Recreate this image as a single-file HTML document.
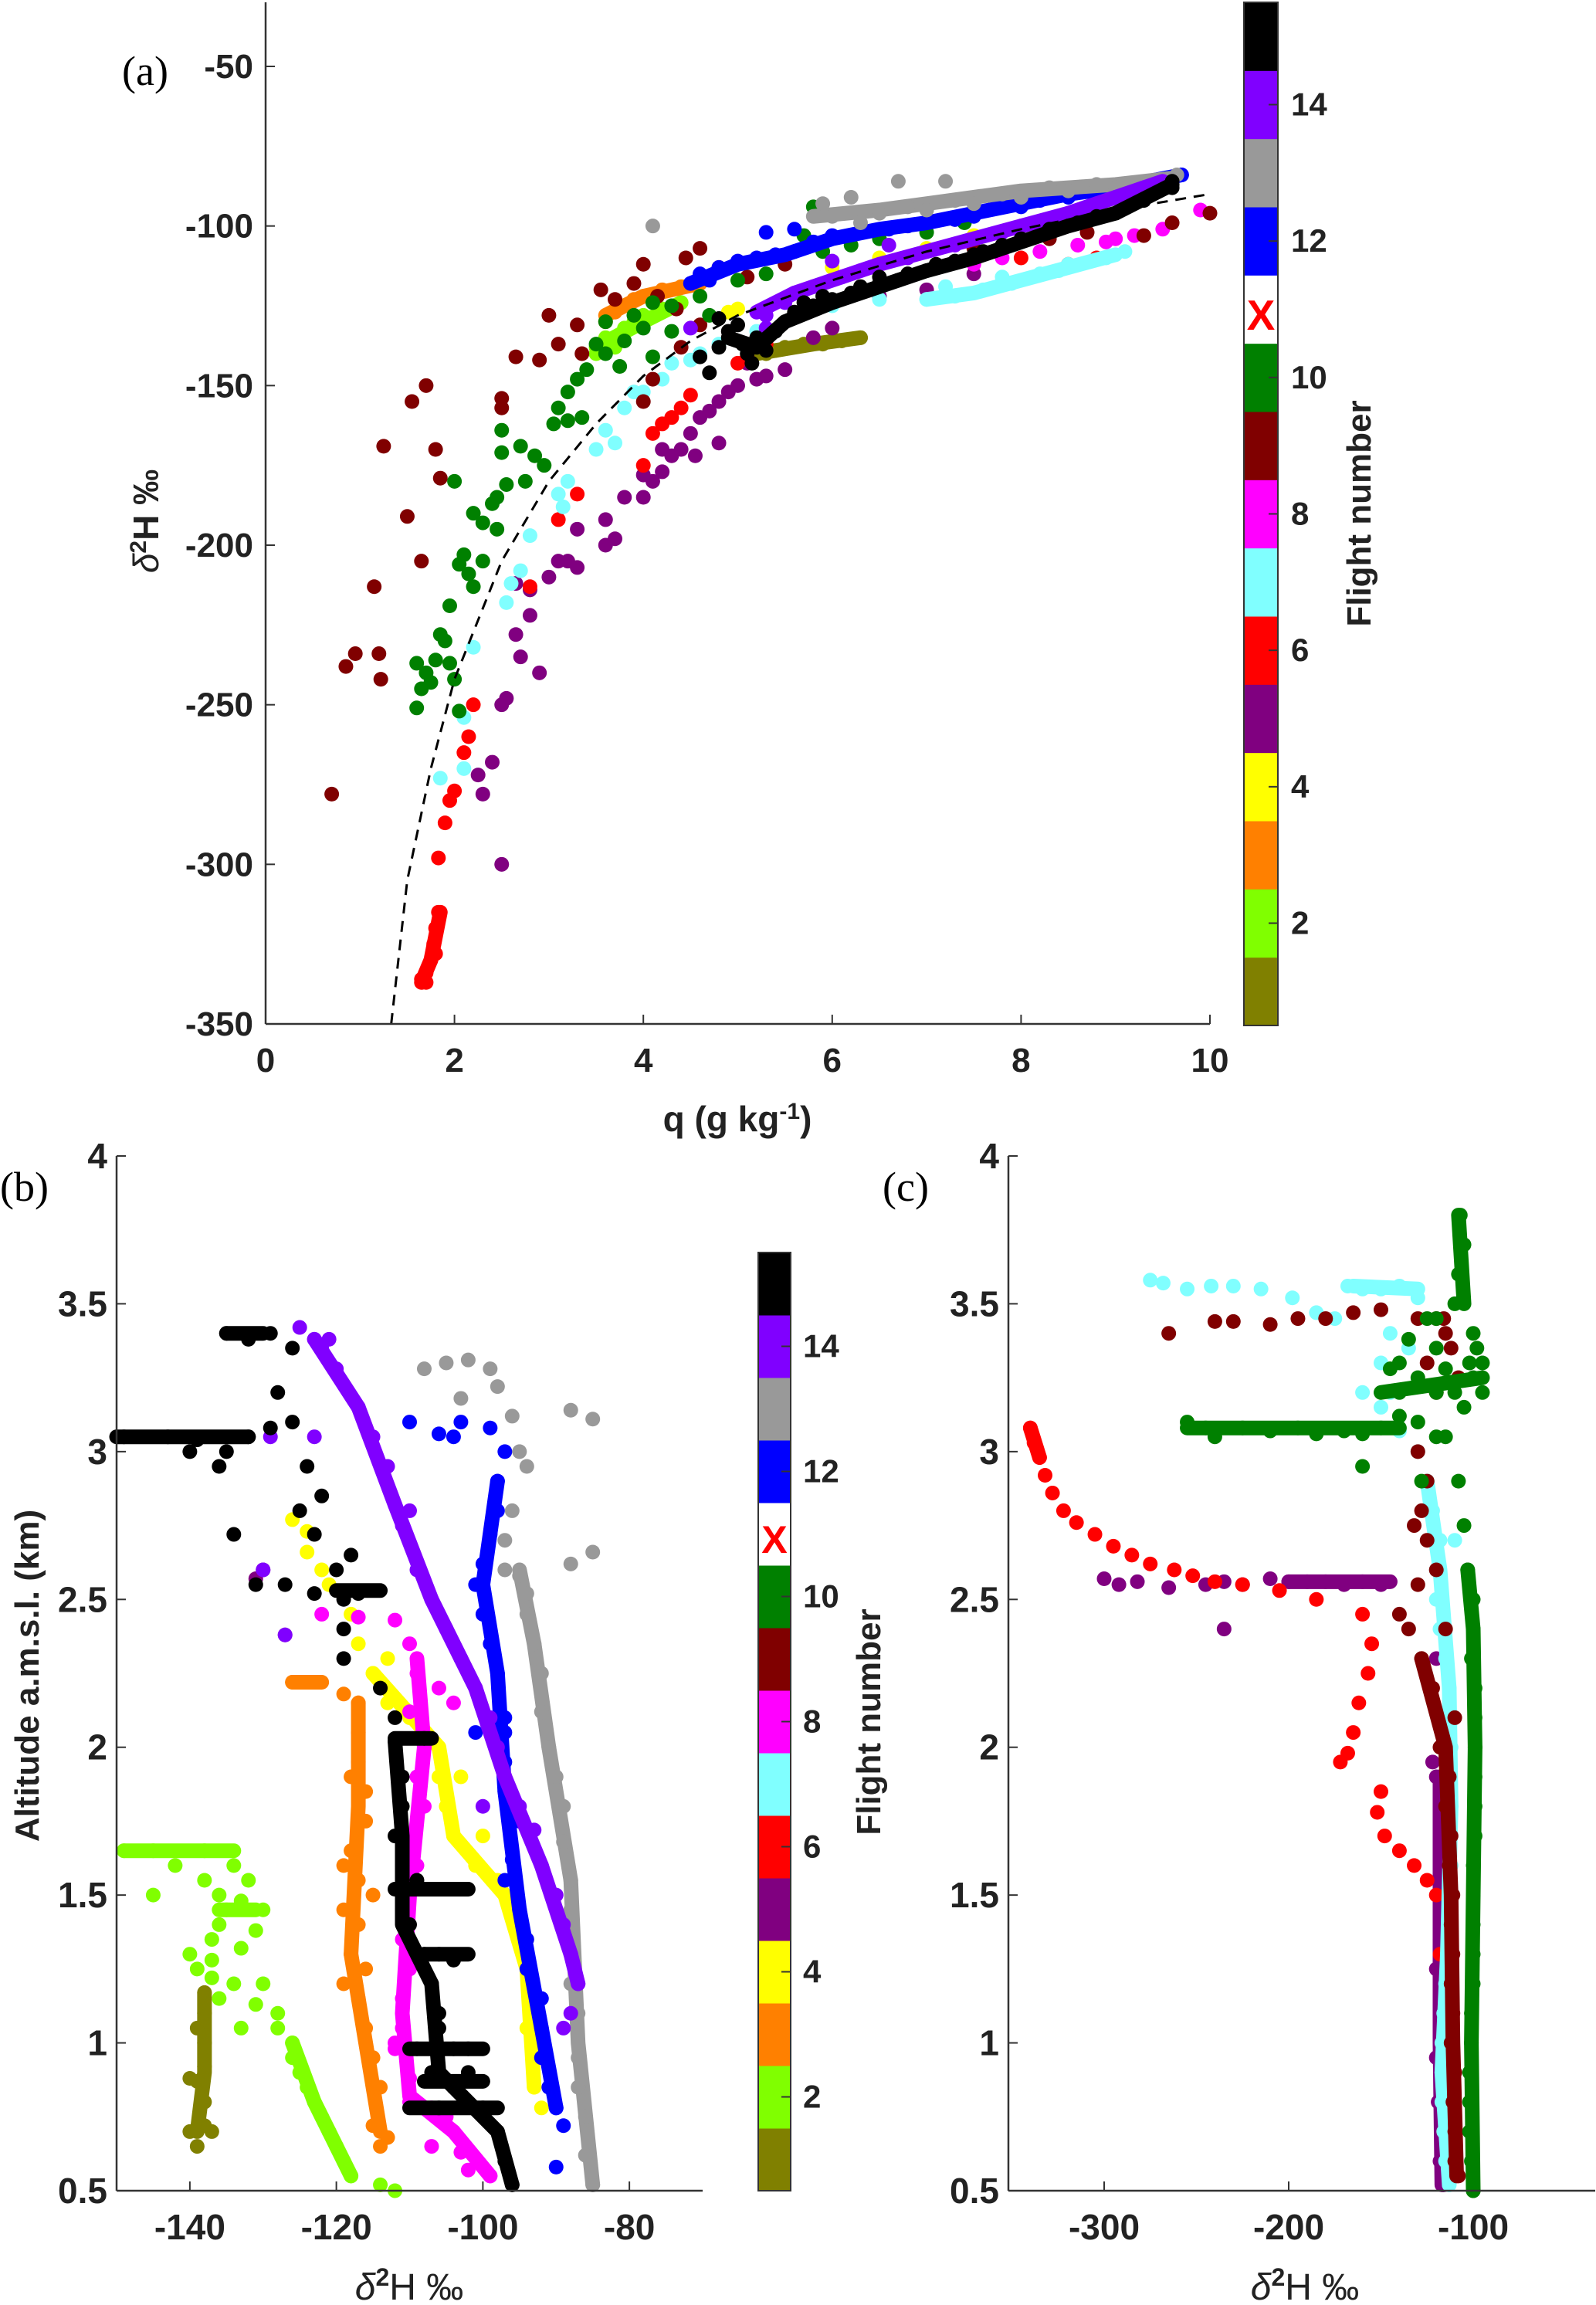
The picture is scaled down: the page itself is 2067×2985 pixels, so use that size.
<!DOCTYPE html>
<html><head><meta charset="utf-8"><style>
html,body{margin:0;padding:0;background:#fff}
svg{display:block}
text{font-family:"Liberation Sans Narrow","Liberation Sans",sans-serif;fill:#222}
</style></head><body>
<svg id="fig" width="2067" height="2985" xmlns="http://www.w3.org/2000/svg"></svg>
<script>
// ---- Colours per flight (1..15), flight 11 absent ----
const flightColors=["#808000","#80ff00","#ff8000","#ffff00","#800080","#ff0000","#80ffff","#ff00ff","#800000","#008000","#ffffff","#0000ff","#999999","#8000ff","#000000"];
const cbLabels=["2","4","6","8","10","12","14"];
const cbLabelFlights=[2,4,6,8,10,12,14];
// ---- Panel (a): q (g/kg) vs d2H ----
const aXTicks=[0,2,4,6,8,10];
const aYTicks=[-50,-100,-150,-200,-250,-300,-350];
const curveQ=[1.33,1.5,1.75,2,2.5,3,3.5,4,4.5,5,6,7,8,9,10];
const curveD=[-350,-305,-270,-242,-205,-180,-162,-147,-136,-128,-117,-108,-101,-95,-90];
const aF1=[[5.3,-140],[5.5,-138],[5.7,-137],[5.9,-137],[6.1,-136],[6.3,-135],[5.4,-139],[6.0,-136]];
const aF2=[[3.5,-140],[3.6,-135],[3.7,-138],[3.8,-132],[3.9,-130],[4.0,-128],[4.2,-126],[4.4,-124]];
const aF3=[[3.6,-130],[3.7,-127],[3.8,-125],[3.9,-123],[4.0,-122],[4.2,-120],[4.4,-119],[4.6,-118]];
const aF4=[[4.9,-127],[5.0,-126],[6.5,-110],[7.0,-107],[7.5,-103],[6.0,-113]];
const aF5=[[2.5,-300],[2.4,-268],[2.3,-278],[2.25,-272],[2.5,-250],[2.55,-248],[2.7,-235],[2.65,-228],[2.8,-222],[2.9,-240],[2.65,-212],[2.8,-214],[3.0,-210],[3.1,-205],[3.2,-205],[3.3,-195],[3.3,-207],[3.6,-192],[3.7,-198],[3.6,-200],[3.8,-185],[4.0,-185],[4.1,-180],[4.2,-177],[4.3,-172],[4.4,-170],[4.5,-165],[4.6,-160],[4.7,-158],[4.8,-155],[4.9,-152],[5.0,-150],[5.2,-148],[5.3,-147],[4.8,-168],[5.5,-145],[5.8,-135],[6.0,-132],[6.5,-122],[7.0,-120],[7.5,-115],[4.55,-172],[4.2,-170],[4.0,-178],[5.1,-143]];
const aF6=[[1.65,-336],[1.7,-334],[1.75,-330],[1.78,-325],[1.8,-320],[1.83,-315],[1.83,-298],[1.9,-287],[1.95,-280],[2.0,-277],[2.15,-260],[2.2,-250],[2.1,-265],[2.8,-213],[3.1,-192],[3.3,-184],[4.0,-175],[4.1,-165],[4.2,-162],[4.4,-157],[4.5,-153],[4.3,-160],[5.0,-143],[5.1,-141],[5.3,-137],[8.0,-110],[8.5,-112],[8.8,-110],[1.7,-337],[1.8,-328]];
const aF7=[[1.85,-273],[2.1,-270],[2.1,-254],[2.2,-232],[2.55,-218],[2.6,-212],[2.7,-208],[2.8,-197],[3.1,-184],[3.15,-188],[3.2,-180],[3.5,-170],[3.6,-164],[3.7,-168],[3.8,-157],[3.9,-152],[4.0,-152],[4.2,-148],[4.3,-143],[4.5,-142],[4.6,-140],[4.8,-137],[5.2,-133],[7.0,-123],[7.3,-122],[7.6,-120],[7.9,-118],[8.2,-115],[8.5,-112],[8.9,-110],[9.1,-108],[6.0,-125],[6.5,-123],[7.2,-119],[7.8,-116],[8.4,-114]];
const aF8=[[8.2,-108],[8.6,-106],[9.0,-104],[9.2,-103],[9.5,-101],[9.9,-95],[7.5,-112],[7.8,-110],[8.9,-105]];
const aF9=[[0.7,-278],[0.85,-238],[0.95,-234],[1.15,-213],[1.2,-234],[1.22,-242],[1.25,-169],[1.5,-191],[1.65,-205],[1.55,-155],[1.7,-150],[1.8,-170],[1.85,-179],[2.5,-154],[2.5,-157],[2.65,-141],[2.9,-142],[3.0,-128],[3.1,-137],[3.3,-131],[3.35,-140],[3.55,-120],[3.7,-123],[3.9,-118],[4.0,-112],[4.15,-122],[4.35,-126],[4.45,-110],[4.6,-107],[4.8,-113],[5.1,-116],[5.5,-112],[4.1,-148],[4.0,-155],[7.5,-107],[8.3,-104],[8.7,-102],[9.3,-103],[9.6,-99],[10.0,-96],[4.4,-138],[5.3,-126],[4.6,-131],[5.5,-123]];
const aF10=[[1.6,-237],[1.65,-245],[1.6,-251],[1.7,-240],[1.75,-243],[1.8,-236],[1.85,-228],[1.9,-230],[1.95,-237],[2.0,-242],[2.05,-252],[1.95,-219],[2.05,-206],[2.1,-203],[2.15,-209],[2.2,-213],[2.0,-180],[2.2,-190],[2.3,-193],[2.4,-187],[2.45,-185],[2.55,-181],[2.5,-171],[2.7,-169],[2.75,-180],[2.85,-172],[2.95,-175],[3.05,-162],[3.1,-157],[3.2,-152],[3.2,-161],[3.35,-160],[3.3,-148],[3.4,-145],[3.5,-137],[3.6,-140],[3.6,-130],[3.75,-144],[3.8,-136],[3.9,-128],[4.0,-132],[4.1,-141],[4.1,-124],[4.3,-125],[4.3,-133],[4.6,-122],[4.7,-128],[5.0,-117],[5.3,-115],[5.6,-108],[5.9,-108],[5.8,-94],[5.7,-103],[6.2,-106],[6.5,-104],[7.0,-102],[7.4,-99],[2.5,-164],[2.45,-195],[2.3,-205]];
const aF12=[[4.5,-118],[4.6,-115],[4.8,-113],[5.0,-111],[5.2,-110],[5.4,-109],[5.6,-108],[5.8,-105],[6.0,-103],[6.3,-102],[6.6,-101],[7.0,-99],[7.5,-97],[8.0,-94],[8.5,-91],[9.0,-88],[9.5,-86],[9.7,-84],[5.3,-102],[5.6,-101],[4.7,-117],[6.8,-100],[7.3,-98],[8.2,-92],[8.8,-89]];
const aF13=[[4.1,-100],[5.9,-93],[6.2,-91],[6.7,-86],[7.2,-86],[6.0,-97],[6.5,-96],[7.0,-95],[7.5,-93],[8.0,-91],[8.5,-89],[9.0,-88],[9.5,-86],[9.65,-84],[6.3,-99],[7.8,-90],[6.8,-94],[7.3,-92],[8.3,-88],[8.8,-87]];
const aF14=[[5.3,-128],[5.5,-124],[5.8,-119],[6.1,-116],[6.5,-112],[7.0,-108],[7.5,-104],[8.0,-100],[8.5,-96],[9.0,-91],[9.3,-88],[9.5,-87],[5.3,-132],[6.0,-111],[6.6,-106],[4.5,-132],[5.6,-121],[6.3,-114],[6.8,-110],[7.3,-106],[7.8,-102],[8.3,-98],[8.8,-93]];
const aF15=[[4.8,-129],[4.9,-133],[5.0,-131],[5.05,-137],[5.1,-140],[5.15,-143],[5.2,-135],[5.3,-139],[5.4,-133],[5.5,-130],[5.6,-127],[5.8,-125],[6.0,-123],[6.2,-121],[6.5,-118],[6.8,-115],[7.0,-114],[7.3,-111],[7.6,-108],[8.0,-104],[8.3,-101],[8.6,-99],[9.0,-96],[9.3,-92],[9.6,-88],[9.6,-86],[4.6,-141],[4.7,-146],[4.8,-138],[5.7,-124],[6.5,-116],[7.5,-109],[5.9,-122],[6.3,-119],[6.7,-117],[7.1,-112],[7.8,-106],[8.2,-103],[8.8,-97]];
// dense flight tracks (drawn as continuous bands of points)
const aT1=[[[5.2,-140],[5.8,-137],[6.3,-135]]];
const aT2=[[[3.5,-138],[4.0,-130],[4.4,-124]]];
const aT3=[[[3.6,-128],[4.0,-122],[4.6,-118]]];
const aT6=[[[1.65,-337],[1.75,-330],[1.85,-315]]];
const aT7=[[[7.0,-123],[7.5,-121],[8.0,-117],[8.5,-113],[9.0,-109]]];
const aT12=[[[4.5,-118],[5.0,-112],[5.5,-109],[6.0,-104],[6.5,-101],[7.0,-99],[7.5,-96],[8.0,-93],[8.5,-90],[9.0,-88],[9.7,-84]]];
const aT13=[[[5.8,-97],[6.5,-95],[7.0,-93],[7.5,-91],[8.0,-89],[8.5,-88],[9.0,-87],[9.6,-85]]];
const aT14=[[[5.2,-127],[5.6,-121],[6.0,-117],[6.5,-112],[7.0,-108],[7.5,-104],[8.0,-100],[8.5,-96],[9.0,-91],[9.5,-86]]];
const aT15=[[[4.9,-135],[5.2,-138],[5.5,-130],[6.0,-124],[6.5,-119],[7.0,-114],[7.5,-110],[8.0,-105],[8.5,-100],[9.0,-96],[9.6,-87]]];
const aSeries=[[1,aF1,aT1],[2,aF2,aT2],[3,aF3,aT3],[4,aF4,[]],[5,aF5,[]],[6,aF6,aT6],[7,aF7,aT7],[8,aF8,[]],[9,aF9,[]],[10,aF10,[]],[12,aF12,aT12],[13,aF13,aT13],[14,aF14,aT14],[15,aF15,aT15]];
// ---- Panel (b): d2H vs altitude ----
const bXTicks=[-140,-120,-100,-80];
const altTicks=[0.5,1,1.5,2,2.5,3,3.5,4];
const altTickLabels=["0.5","1","1.5","2","2.5","3","3.5","4"];
const bF1=[[-139,0.65],[-140,0.7],[-138,0.72],[-138,0.8],[-139,0.87],[-138,0.92],[-138,1.0],[-139,1.05],[-138,1.1],[-138,1.17],[-137,0.7],[-140,0.88]];
const bF2=[[-149,1.65],[-145,1.65],[-138,1.65],[-134,1.6],[-132,1.55],[-136,1.5],[-145,1.5],[-135,1.45],[-130,1.45],[-136,1.4],[-131,1.38],[-137,1.35],[-133,1.32],[-140,1.3],[-137,1.28],[-139,1.25],[-134,1.2],[-130,1.2],[-136,1.15],[-131,1.13],[-133,1.05],[-128,1.05],[-126,1.0],[-126,0.95],[-125,0.9],[-124,0.85],[-123,0.8],[-122,0.75],[-121,0.7],[-120,0.65],[-119,0.6],[-118,0.55],[-114,0.52],[-112,0.5],[-128,1.1],[-138,1.55],[-142,1.6],[-133,1.48],[-137,1.22]];
const bF3=[[-126,2.22],[-123,2.22],[-119,2.18],[-117,2.15],[-117,2.05],[-117,1.95],[-116,1.85],[-117,1.75],[-118,1.65],[-117,1.55],[-119,1.45],[-117,1.4],[-118,1.3],[-119,1.2],[-117,1.15],[-116,1.05],[-115,0.95],[-114,0.85],[-115,0.72],[-114,0.65],[-113,0.68],[-115,1.5],[-116,1.75],[-116,1.25],[-119,1.6],[-118,1.9]];
const bF4=[[-126,2.77],[-124,2.73],[-124,2.66],[-122,2.6],[-121,2.55],[-118,2.45],[-117,2.35],[-115,2.25],[-113,2.15],[-110,2.1],[-106,2.0],[-106,1.9],[-105,1.8],[-104,1.7],[-101,1.6],[-98,1.55],[-97,1.5],[-95,1.45],[-94,1.35],[-94,1.25],[-93,1.15],[-94,1.05],[-93,0.95],[-93,0.85],[-92,0.78],[-113,2.3],[-103,1.9],[-100,1.7]];
const bF5=[[-130,2.6],[-131,2.57],[-127,2.38]];
const bF8=[[-122,2.45],[-117,2.44],[-112,2.43],[-110,2.35],[-109,2.25],[-110,2.12],[-108,2.0],[-109,1.9],[-108,1.8],[-110,1.7],[-110,1.55],[-111,1.45],[-111,1.35],[-110,1.25],[-111,1.15],[-111,1.05],[-112,0.98],[-110,0.88],[-110,0.8],[-107,0.78],[-105,0.75],[-104,0.7],[-103,0.63],[-102,0.57],[-99,0.55],[-106,2.2],[-104,2.15],[-112,1.0],[-107,0.65],[-109,1.6],[-110,1.3]];
const bF12=[[-103,3.1],[-99,3.08],[-97,3.0],[-98,2.9],[-98,2.8],[-99,2.72],[-100,2.62],[-101,2.55],[-100,2.45],[-99,2.35],[-98,2.25],[-97,2.1],[-97,2.05],[-101,2.05],[-97,1.95],[-97,1.85],[-95,1.75],[-96,1.62],[-97,1.55],[-95,1.45],[-94,1.35],[-94,1.25],[-92,1.15],[-92,1.05],[-92,0.95],[-91,0.85],[-90,0.78],[-89,0.72],[-90,0.58],[-110,3.1],[-106,3.06],[-104,3.05]];
const bF13=[[-108,3.28],[-105,3.3],[-102,3.31],[-99,3.28],[-98,3.22],[-103,3.18],[-96,3.12],[-95,3.0],[-94,2.95],[-85,3.11],[-88,3.14],[-97,2.6],[-95,2.58],[-94,2.52],[-94,2.45],[-93,2.35],[-92,2.25],[-92,2.12],[-91,2.0],[-90,1.9],[-89,1.8],[-89,1.68],[-88,1.55],[-88,1.45],[-88,1.35],[-88,1.2],[-87,1.1],[-87,0.95],[-87,0.85],[-86,0.75],[-86,0.62],[-85,0.52],[-88,2.62],[-85,2.66],[-96,2.8],[-97,2.7]];
const bF14=[[-125,3.42],[-123,3.38],[-122,3.35],[-120,3.28],[-117,3.15],[-115,3.05],[-113,2.95],[-112,2.82],[-111,2.75],[-109,2.6],[-107,2.5],[-105,2.4],[-103,2.3],[-101,2.2],[-99,2.1],[-98,2.0],[-97,1.9],[-95,1.8],[-93,1.72],[-92,1.6],[-90,1.5],[-89,1.4],[-88,1.3],[-87,1.2],[-88,1.1],[-89,1.05],[-129,3.05],[-123,3.05],[-127,2.38],[-130,2.6],[-121,3.38],[-110,2.8],[-100,1.8]];
const bF15=[[-149,3.05],[-143,3.05],[-139,3.04],[-135,3.0],[-132,3.05],[-129,3.08],[-135,3.4],[-132,3.38],[-129,3.4],[-126,3.35],[-128,3.2],[-126,3.1],[-124,2.95],[-122,2.85],[-125,2.8],[-123,2.72],[-120,2.6],[-131,2.55],[-127,2.55],[-123,2.52],[-119,2.5],[-117,2.52],[-119,2.4],[-119,2.3],[-134,2.72],[-114,2.2],[-112,2.1],[-108,2.03],[-112,2.02],[-111,1.9],[-111,1.8],[-112,1.7],[-111,1.6],[-109,1.55],[-106,1.52],[-111,1.45],[-110,1.4],[-108,1.3],[-104,1.28],[-107,1.2],[-106,1.1],[-106,1.05],[-109,0.98],[-104,0.98],[-107,0.9],[-102,0.9],[-104,0.85],[-106,0.78],[-100,0.78],[-98,0.7],[-97,0.6],[-96,0.52],[-136,2.95],[-140,3.0],[-118,2.65],[-110,1.52],[-106,1.3],[-102,0.98]];
const bT1=[[[-138,1.17],[-138,0.9],[-139,0.7]]];
const bT2=[[[-126,1.0],[-123,0.8],[-120,0.65],[-118,0.55]],[[-149,1.65],[-134,1.65]],[[-136,1.45],[-131,1.45]]];
const bT3=[[[-126,2.22],[-122,2.22]],[[-117,2.15],[-117,1.8],[-118,1.3],[-116,1.0],[-114,0.7]]];
const bT4=[[[-115,2.25],[-106,2.0],[-104,1.7],[-97,1.5],[-94,1.25],[-93,0.85]]];
const bT8=[[[-109,2.3],[-108,2.0],[-110,1.5],[-111,1.1],[-110,0.82],[-104,0.7],[-99,0.55]]];
const bT12=[[[-98,2.9],[-100,2.55],[-98,2.25],[-97,1.85],[-95,1.45],[-92,1.05],[-90,0.78]]];
const bT13=[[[-95,2.6],[-93,2.35],[-91,2.0],[-88,1.55],[-87,1.0],[-85,0.52]]];
const bT14=[[[-123,3.38],[-117,3.15],[-112,2.82],[-107,2.5],[-101,2.2],[-97,1.9],[-92,1.6],[-88,1.3],[-87,1.2]]];
const bT15=[[[-112,2.02],[-111,1.7],[-111,1.4],[-107,1.2],[-106,0.9],[-98,0.7],[-96,0.52]],[[-112,2.03],[-107,2.03]],[[-112,1.52],[-102,1.52]],[[-108,1.3],[-102,1.3]],[[-110,0.98],[-100,0.98]],[[-108,0.87],[-100,0.87]],[[-110,0.78],[-98,0.78]],[[-150,3.05],[-132,3.05]],[[-120,2.53],[-114,2.53]],[[-135,3.4],[-130,3.4]]];
const bSeries=[[1,bF1,bT1],[2,bF2,bT2],[3,bF3,bT3],[4,bF4,bT4],[5,bF5,[]],[8,bF8,bT8],[12,bF12,bT12],[13,bF13,bT13],[14,bF14,bT14],[15,bF15,bT15]];
// ---- Panel (c) ----
const cXTicks=[-300,-200,-100];
const cF5=[[-300,2.57],[-292,2.55],[-282,2.56],[-265,2.54],[-245,2.55],[-235,2.56],[-225,2.55],[-210,2.57],[-200,2.56],[-190,2.56],[-180,2.56],[-170,2.55],[-160,2.56],[-150,2.55],[-235,2.4],[-120,2.3],[-118,2.1],[-120,1.9],[-117,1.8],[-115,1.65],[-118,1.55],[-120,1.25],[-116,1.15],[-120,0.95],[-119,0.8],[-118,0.6],[-116,0.52],[-122,1.95],[-118,1.35]];
const cF6=[[-340,3.08],[-338,3.03],[-335,2.98],[-332,2.92],[-328,2.86],[-322,2.8],[-315,2.76],[-305,2.72],[-295,2.68],[-285,2.65],[-275,2.62],[-262,2.6],[-252,2.58],[-240,2.56],[-225,2.55],[-205,2.53],[-185,2.5],[-160,2.45],[-155,2.35],[-157,2.25],[-162,2.15],[-165,2.05],[-172,1.95],[-168,1.98],[-150,1.85],[-152,1.78],[-148,1.7],[-140,1.65],[-132,1.6],[-125,1.55],[-120,1.5],[-118,1.3],[-117,1.0],[-116,0.7]];
const cF7=[[-275,3.58],[-268,3.57],[-255,3.55],[-242,3.56],[-230,3.56],[-215,3.55],[-198,3.52],[-185,3.47],[-175,3.45],[-168,3.56],[-160,3.55],[-150,3.55],[-140,3.56],[-130,3.52],[-145,3.4],[-150,3.3],[-145,3.2],[-160,3.2],[-150,3.15],[-140,3.07],[-130,3.0],[-125,2.9],[-122,2.8],[-118,2.7],[-120,2.6],[-120,2.5],[-118,2.4],[-115,2.3],[-113,2.2],[-112,2.0],[-112,1.8],[-112,1.6],[-113,1.4],[-115,1.2],[-117,1.0],[-117,0.8],[-115,0.6],[-113,0.52],[-110,2.7],[-135,3.35],[-114,2.1],[-113,1.9],[-112,1.7],[-112,1.5],[-114,1.3],[-116,1.1],[-117,0.9],[-116,0.7]];
const cF9=[[-265,3.4],[-240,3.44],[-230,3.44],[-210,3.43],[-195,3.45],[-180,3.45],[-165,3.47],[-150,3.48],[-130,3.45],[-120,3.45],[-115,3.4],[-125,3.3],[-120,3.2],[-130,3.0],[-125,2.9],[-128,2.8],[-125,2.7],[-132,2.75],[-120,2.6],[-130,2.55],[-140,2.45],[-135,2.4],[-128,2.3],[-122,2.2],[-118,2.0],[-115,1.8],[-113,1.6],[-112,1.4],[-112,1.2],[-112,1.0],[-111,0.8],[-110,0.6],[-108,0.55],[-115,2.4],[-110,2.1],[-113,1.9],[-112,1.7],[-111,1.5],[-111,1.3],[-111,1.1],[-110,0.9],[-110,0.7],[-112,3.35],[-108,3.25],[-116,3.45]];
const cF10=[[-107,3.8],[-105,3.7],[-108,3.6],[-110,3.5],[-120,3.45],[-100,3.4],[-95,3.3],[-100,3.25],[-120,3.2],[-130,3.25],[-110,3.2],[-140,3.2],[-120,3.35],[-95,3.2],[-255,3.1],[-245,3.08],[-240,3.05],[-225,3.08],[-210,3.07],[-195,3.08],[-185,3.06],[-170,3.07],[-160,3.06],[-150,3.08],[-140,3.12],[-130,3.1],[-115,3.05],[-108,2.9],[-105,2.75],[-103,2.6],[-100,2.5],[-101,2.3],[-99,2.1],[-99,1.9],[-99,1.7],[-100,1.5],[-100,1.3],[-101,1.1],[-102,0.9],[-102,0.7],[-100,0.5],[-160,2.95],[-120,3.05],[-128,2.9],[-100,2.4],[-99,2.2],[-99,2.0],[-99,1.8],[-100,1.6],[-100,1.4],[-100,1.2],[-101,1.0],[-102,0.8],[-101,0.6],[-145,3.28],[-105,3.15],[-140,3.3],[-135,3.38],[-125,3.45],[-102,3.3],[-98,3.35],[-115,3.28]];
const cT5=[[[-200,2.56],[-145,2.56]],[[-118,1.9],[-118,1.0],[-117,0.52]]];
const cT6=[[[-340,3.08],[-335,2.98]]];
const cT7=[[[-125,2.9],[-118,2.6],[-113,2.2],[-112,1.8],[-114,1.3],[-117,0.9],[-113,0.52]],[[-165,3.56],[-130,3.55]]];
const cT9=[[[-128,2.3],[-115,2.0],[-112,1.5],[-111,1.0],[-109,0.55]]];
const cT10=[[[-103,2.6],[-100,2.4],[-99,2.0],[-100,1.5],[-101,1.0],[-100,0.5]],[[-255,3.08],[-140,3.08]],[[-150,3.2],[-95,3.25]],[[-108,3.8],[-105,3.5]]];
const cSeries=[[5,cF5,cT5],[6,cF6,cT6],[7,cF7,cT7],[9,cF9,cT9],[10,cF10,cT10]];

const NS="http://www.w3.org/2000/svg";
const svg=document.getElementById('fig');
function mk(tag,attrs,parent){const e=document.createElementNS(NS,tag);for(const k in attrs)e.setAttribute(k,attrs[k]);(parent||svg).appendChild(e);return e;}
function txt(s,attrs,parent){const e=mk('text',attrs,parent);e.textContent=s;return e;}
function lin(d0,d1,p0,p1){return v=>p0+(v-d0)/(d1-d0)*(p1-p0);}
const R=9.5;

function drawSeries(g,series,X,Y){
  series.forEach(([f,pts,tracks])=>{
    const sg=mk('g',{},g);
    
    
    (tracks||[]).forEach(tr=>{
      const pl=mk('polyline',{points:tr.map(p=>X(p[0])+','+Y(p[1])).join(' '),fill:'none',stroke:flightColors[f-1],'stroke-width':2*R,'stroke-linecap':'round','stroke-linejoin':'round'},sg);
      
      
    });
    pts.forEach(p=>{
      const c=mk('circle',{cx:X(p[0]),cy:Y(p[1]),r:R,fill:flightColors[f-1]},sg);
      
      
    });
  });
}
function axesLines(g,l,r,t,b){
  mk('line',{x1:l,y1:t,x2:l,y2:b,stroke:'#333','stroke-width':2.5},g);
  mk('line',{x1:l,y1:b,x2:r,y2:b,stroke:'#333','stroke-width':2.5},g);
}
function colorbar(g,x,w,top,bot,labelX){
  const h=(bot-top)/15;
  for(let i=0;i<15;i++){
    const y=bot-(i+1)*h;
    const s=mk('rect',{x:x,y:y,width:w,height:h+0.5,fill:flightColors[i]},g);
    
    
  }
  const xm=txt('X',{x:x+w/2,y:bot-10.5*h+h*0.3,'text-anchor':'middle','font-size':h*0.62,'font-weight':'bold',style:'fill:#ff0000'},g);
  
  
  mk('rect',{x:x,y:top,width:w,height:bot-top,fill:'none',stroke:'#333','stroke-width':2},g);
  cbLabelFlights.forEach((f,i)=>{
    const y=bot-(f-0.5)*h;
    mk('line',{x1:x+w-12,y1:y,x2:x+w,y2:y,stroke:'#333','stroke-width':2},g);
    const t=txt(cbLabels[i],{x:labelX,y:y+14,'font-size':42,'font-weight':'bold'},g);
    
    
  });
}

// ===== Panel A =====
const gA=mk('g',{});


const aL=344,aR=1567,aT=3,aB=1326;
const AX=lin(0,10,aL,aR), AY=lin(-50,-350,86,1326);
aYTicks.forEach(v=>{
  mk('line',{x1:aL,y1:AY(v),x2:aL+12,y2:AY(v),stroke:'#333','stroke-width':2},gA);
  const t=txt(String(v),{x:aL-16,y:AY(v)+15,'text-anchor':'end','font-size':44,'font-weight':'bold'},gA);
  
  
});
aXTicks.forEach(v=>{
  mk('line',{x1:AX(v),y1:aB,x2:AX(v),y2:aB-12,stroke:'#333','stroke-width':2},gA);
  const t=txt(String(v),{x:AX(v),y:1388,'text-anchor':'middle','font-size':44,'font-weight':'bold'},gA);
  
  
});
drawSeries(gA,aSeries,AX,AY);
const cpts=curveQ.map((q,i)=>AX(q)+','+AY(curveD[i])).join(' ');
const curve=mk('polyline',{points:cpts,fill:'none',stroke:'#000','stroke-width':3,'stroke-dasharray':'14,10'},gA);


axesLines(gA,aL,aR,aT,aB);
const la=txt('(a)',{x:158,y:110,'font-size':54,style:'font-family:"Liberation Serif",serif;fill:#000'},gA);

const xa=txt('',{x:955,y:1465,'text-anchor':'middle','font-size':46,'font-weight':'bold'},gA);
xa.innerHTML='q (g kg<tspan dy="-16" font-size="30">-1</tspan><tspan dy="16">)</tspan>';

const ya=txt('',{transform:'translate(205,675) rotate(-90)','text-anchor':'middle','font-size':46,'font-weight':'bold'},gA);
ya.innerHTML='<tspan font-style="italic" font-weight="normal">δ</tspan><tspan dy="-16" font-size="30">2</tspan><tspan dy="16">H ‰</tspan>';

const cbA=mk('g',{},gA);

colorbar(cbA,1611,44,3,1328,1672);
const fa=txt('Flight number',{transform:'translate(1775,665) rotate(-90)','text-anchor':'middle','font-size':44,'font-weight':'bold',style:'font-family:"Liberation Sans",sans-serif'},gA);


// ===== Panel B =====
const gB=mk('g',{});


const bL=151,bR=910,bT=1497,bB=2837;
const BX=lin(-150,-70,bL,bR), BY=lin(0.5,4,bB,bT);
altTicks.forEach((v,i)=>{
  mk('line',{x1:bL,y1:BY(v),x2:bL+12,y2:BY(v),stroke:'#333','stroke-width':2},gB);
  const t=txt(altTickLabels[i],{x:bL-12,y:BY(v)+16,'text-anchor':'end','font-size':46,'font-weight':'bold'},gB);
  
});
bXTicks.forEach(v=>{
  mk('line',{x1:BX(v),y1:bB,x2:BX(v),y2:bB-12,stroke:'#333','stroke-width':2},gB);
  const t=txt(String(v),{x:BX(v),y:2900,'text-anchor':'middle','font-size':46,'font-weight':'bold'},gB);
  
});
drawSeries(gB,bSeries,BX,BY);
axesLines(gB,bL,bR,bT,bB);
const lb=txt('(b)',{x:0,y:1555,'font-size':54,style:'font-family:"Liberation Serif",serif;fill:#000'},gB);

const xb=txt('',{x:530,y:2978,'text-anchor':'middle','font-size':48},gB);
xb.innerHTML='<tspan font-style="italic">δ</tspan><tspan dy="-18" font-size="32" font-weight="bold">2</tspan><tspan dy="18">H ‰</tspan>';

const yb=txt('Altitude a.m.s.l. (km)',{transform:'translate(50,2170) rotate(-90)','text-anchor':'middle','font-size':44,'font-weight':'bold',style:'font-family:"Liberation Sans",sans-serif'},gB);

const cbB=mk('g',{},gB);

colorbar(cbB,982,42,1622,2837,1040);
const fb=txt('Flight number',{transform:'translate(1140,2230) rotate(-90)','text-anchor':'middle','font-size':44,'font-weight':'bold',style:'font-family:"Liberation Sans",sans-serif'},gB);


// ===== Panel C =====
const gC=mk('g',{});


const cL=1306,cR=2066,cT=1497,cB=2837;
const CX=lin(-300,-100,1430,1908), CY=lin(0.5,4,cB,cT);
altTicks.forEach((v,i)=>{
  mk('line',{x1:cL,y1:CY(v),x2:cL+12,y2:CY(v),stroke:'#333','stroke-width':2},gC);
  const t=txt(altTickLabels[i],{x:cL-12,y:CY(v)+16,'text-anchor':'end','font-size':46,'font-weight':'bold'},gC);
  
});
cXTicks.forEach(v=>{
  mk('line',{x1:CX(v),y1:cB,x2:CX(v),y2:cB-12,stroke:'#333','stroke-width':2},gC);
  const t=txt(String(v),{x:CX(v),y:2900,'text-anchor':'middle','font-size':46,'font-weight':'bold'},gC);
  
});
drawSeries(gC,cSeries,CX,CY);
axesLines(gC,cL,cR,cT,cB);
const lc=txt('(c)',{x:1143,y:1555,'font-size':54,style:'font-family:"Liberation Serif",serif;fill:#000'},gC);

const xc=txt('',{x:1690,y:2978,'text-anchor':'middle','font-size':48},gC);
xc.innerHTML='<tspan font-style="italic">δ</tspan><tspan dy="-18" font-size="32" font-weight="bold">2</tspan><tspan dy="18">H ‰</tspan>';

</script>
</body></html>
